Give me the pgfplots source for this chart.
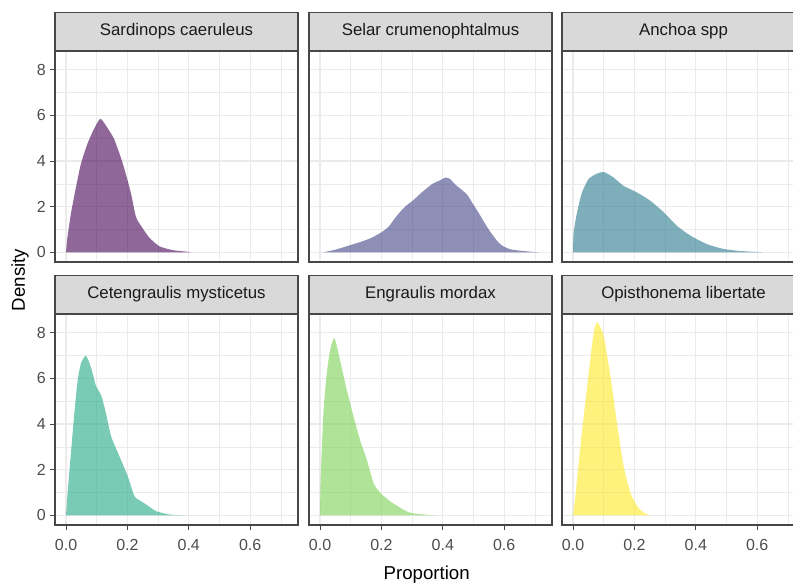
\documentclass[border=0pt]{standalone}
\usepackage{fontspec}
\setmainfont{Liberation Sans}
\usepackage{pgfplots}
\pgfplotsset{compat=1.18}

% viridis(6)
\definecolor{vir1}{HTML}{440154}
\definecolor{vir2}{HTML}{414487}
\definecolor{vir3}{HTML}{2A788E}
\definecolor{vir4}{HTML}{22A884}
\definecolor{vir5}{HTML}{7AD151}
\definecolor{vir6}{HTML}{FDE725}
\definecolor{gridgray}{HTML}{EBEBEB}
\definecolor{framegray}{HTML}{474747}
\definecolor{stripgray}{HTML}{D9D9D9}
\definecolor{ticktext}{HTML}{4D4D4D}
\definecolor{striptext}{HTML}{1A1A1A}

\pgfplotsset{
  facet/.style={
    scale only axis, width=182.25pt, height=158.25pt,
    anchor=south west,
    xmin=-0.036, xmax=0.756, ymin=-0.42, ymax=8.82,
    xtick={0,0.2,0.4,0.6}, ytick={0,2,4,6,8},
    minor xtick={0.1,0.3,0.5,0.7}, minor ytick={1,3,5,7},
    grid=both,
    major grid style={gridgray, line width=0.9pt},
    minor grid style={gridgray, line width=0.45pt},
    axis line style={framegray, line width=0.8pt},
    tick align=outside, xtick pos=bottom, ytick pos=left,
    major tick length=3.4pt, minor tick length=0pt,
    tick style={framegray, line width=0.8pt},
    /pgf/number format/assume math mode=true,
    xticklabel style={font=\fontsize{12}{14}\selectfont, text=ticktext, yshift=-3.5pt,
      /pgf/number format/.cd, fixed, fixed zerofill, precision=1},
    yticklabel style={font=\fontsize{12}{14}\selectfont, text=ticktext},
    every axis title shift=0pt,
    title style={at={(0.5,1)}, anchor=south, fill=stripgray, draw=framegray,
      line width=0.8pt, minimum width=182.25pt, minimum height=28.5pt,
      inner sep=0pt, yshift=0pt, font=\fontsize{12.6}{14}\selectfont, text=striptext},
  },
  inner x/.style={xticklabels={}, xtick style={draw=none}},
  inner y/.style={yticklabels={}, ytick style={draw=none}},
  dens/.style={draw=none, fill opacity=0.6, smooth, tension=0.4},
}

\begin{document}
\begin{tikzpicture}
\useasboundingbox (0,0) rectangle (594.75pt,438pt);
\clip (0,0) rectangle (594.75pt,438pt);

% ---- top row ----
\begin{axis}[facet, inner x, at={(41.25pt,241.5pt)}, title={Sardinops caeruleus}]
\addplot[dens, fill=vir1] table {
0 0
0.004 0.6
0.016 1.7
0.033 2.9
0.049 3.9
0.071 4.8
0.093 5.45
0.112 5.85
0.135 5.45
0.157 4.95
0.184 3.93
0.211 2.62
0.228 1.55
0.250 1.05
0.272 0.64
0.304 0.27
0.348 0.10
0.402 0.02
0.405 0
} -- cycle;
\end{axis}

\begin{axis}[facet, inner x, inner y, at={(231.75pt,241.5pt)}, title={Selar crumenophtalmus}]
\addplot[dens, fill=vir2] table {
0.010 0
0.05 0.12
0.092 0.29
0.13 0.45
0.168 0.64
0.20 0.88
0.223 1.12
0.25 1.6
0.277 2.0
0.305 2.3
0.331 2.62
0.364 2.98
0.39 3.15
0.41 3.28
0.425 3.2
0.44 2.98
0.478 2.55
0.497 2.15
0.516 1.75
0.549 1.02
0.581 0.44
0.60 0.25
0.625 0.12
0.68 0.04
0.715 0
} -- cycle;
\end{axis}

\begin{axis}[facet, inner x, inner y, at={(421.5pt,241.5pt)}, title={Anchoa spp}]
\addplot[dens, fill=vir3] table {
0 0
0.002 0.87
0.013 1.75
0.029 2.62
0.05 3.2
0.073 3.42
0.10 3.52
0.132 3.28
0.165 2.91
0.209 2.62
0.252 2.26
0.296 1.75
0.339 1.16
0.383 0.73
0.437 0.36
0.491 0.15
0.546 0.06
0.60 0.02
0.62 0
} -- cycle;
\end{axis}

% ---- bottom row ----
\begin{axis}[facet, at={(41.25pt,44.25pt)}, title={Cetengraulis mysticetus}]
\addplot[dens, fill=vir4] table {
0 0
0.005 0.99
0.016 2.74
0.027 4.48
0.038 5.94
0.049 6.67
0.065 6.99
0.082 6.45
0.098 5.65
0.114 5.28
0.13 4.48
0.147 3.46
0.174 2.59
0.201 1.72
0.223 0.84
0.239 0.67
0.261 0.48
0.293 0.19
0.337 0.04
0.391 0
} -- cycle;
\end{axis}

\begin{axis}[facet, inner y, at={(231.75pt,44.25pt)}, title={Engraulis mordax}]
\addplot[dens, fill=vir5] table {
0 0
0.002 1.57
0.011 4.48
0.022 6.23
0.033 7.25
0.047 7.76
0.065 6.81
0.087 5.50
0.109 4.34
0.13 3.32
0.152 2.45
0.174 1.43
0.196 0.99
0.228 0.62
0.261 0.34
0.293 0.12
0.34 0.04
0.38 0
} -- cycle;
\end{axis}

\begin{axis}[facet, inner y, at={(421.5pt,44.25pt)}, title={Opisthonema libertate}]
\addplot[dens, fill=vir6] table {
0 0
0.0075 0.84
0.024 3.03
0.046 5.65
0.067 7.98
0.08 8.45
0.10 7.83
0.122 6.08
0.143 4.05
0.165 2.15
0.187 0.99
0.209 0.41
0.23 0.12
0.252 0
} -- cycle;
\end{axis}

% axis titles
\node[rotate=90, font=\fontsize{14}{16}\selectfont] at (15pt,228pt) {Density};
\node[font=\fontsize{14}{16}\selectfont] at (320pt,7pt) {Proportion};
\end{tikzpicture}
\end{document}
